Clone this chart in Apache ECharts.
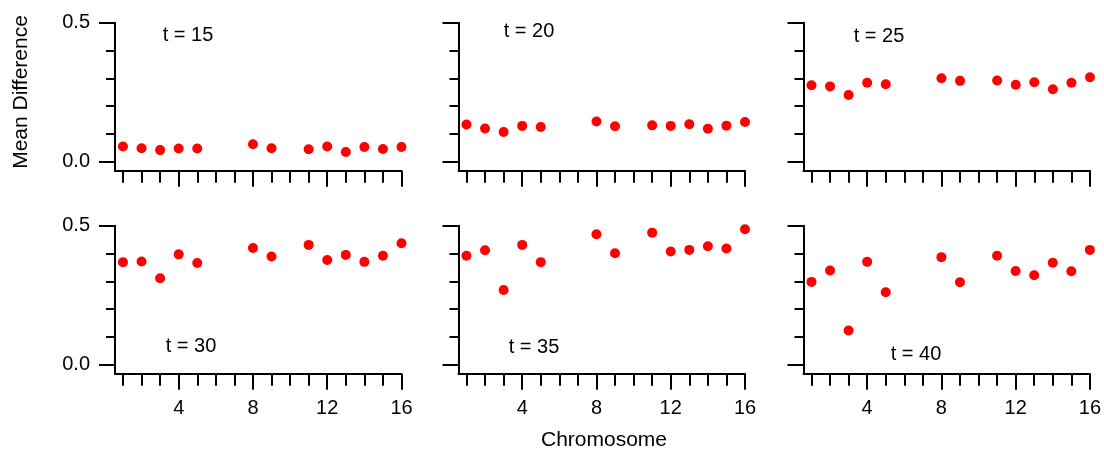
<!DOCTYPE html>
<html>
<head>
<meta charset="utf-8">
<title>Mean Difference by Chromosome</title>
<script src="https://cdn.jsdelivr.net/npm/echarts@6/dist/echarts.min.js"></script>
<style>
  html, body { margin: 0; padding: 0; background: #fff; }
  #chart { width: 1104px; height: 451px; }
</style>
</head>
<body>
<div id="chart"></div>
<script>
// Chromosomes with a measurement (6, 7 and 10 have none)
const chromosomes = [1, 2, 3, 4, 5, 8, 9, 11, 12, 13, 14, 15, 16];

// Mean difference per chromosome at each time point
const t15 = [0.055, 0.049, 0.042, 0.048, 0.048, 0.063, 0.049, 0.045, 0.055, 0.035, 0.053, 0.046, 0.053];
const t20 = [0.134, 0.120, 0.107, 0.129, 0.125, 0.145, 0.128, 0.131, 0.129, 0.135, 0.119, 0.130, 0.143];
const t25 = [0.275, 0.271, 0.240, 0.284, 0.279, 0.300, 0.291, 0.292, 0.277, 0.286, 0.261, 0.284, 0.304];
const t30 = [0.369, 0.371, 0.311, 0.397, 0.366, 0.420, 0.389, 0.431, 0.377, 0.395, 0.370, 0.392, 0.437];
const t35 = [0.392, 0.412, 0.269, 0.431, 0.369, 0.469, 0.401, 0.475, 0.407, 0.413, 0.426, 0.418, 0.487];
const t40 = [0.298, 0.339, 0.123, 0.370, 0.261, 0.387, 0.297, 0.392, 0.337, 0.322, 0.367, 0.336, 0.413];

const panelSeries = [t15, t20, t25, t30, t35, t40];
const panelLabels = ['t = 15', 't = 20', 't = 25', 't = 30', 't = 35', 't = 40'];

// Tick positions
const xMinorTicks = [1, 2, 3, 4, 5, 6, 7, 8, 9, 10, 11, 12, 13, 14, 15, 16];
const xMajorTicks = [4, 8, 12, 16];
const yMinorTicks = [0, 0.1, 0.2, 0.3, 0.4, 0.5];
const yMajorTicks = [0, 0.5];

const FONT = "'Liberation Sans', Arial, Helvetica, sans-serif";
const INK = '#000';

// Panel layout (3 columns x 2 rows)
const colLeft = [115, 458.5, 803.5];
const rowTop = [22.7, 225.7];
const panelW = 286.5;
const panelH = 148;
const X_MIN = 0.57, X_MAX = 16;
const Y_MIN = -0.032, Y_MAX = 0.5;

// Panel title placement (centre of text)
const labelPos = [
  [188, 35], [529, 31], [879, 36],
  [191, 346], [534, 347.5], [916, 354]
];

const grids = [], xAxes = [], yAxes = [], series = [], titles = [];

panelSeries.forEach((vals, i) => {
  const row = Math.floor(i / 3), col = i % 3;
  grids.push({ left: colLeft[col], top: rowTop[row], width: panelW, height: panelH, containLabel: false });

  const lineStyle = { color: INK, width: 2 };

  // x axis: line with a tick at every chromosome
  xAxes.push({
    type: 'value', gridIndex: i, min: X_MIN, max: X_MAX, position: 'bottom',
    axisLine: { show: true, onZero: false, lineStyle },
    axisTick: { show: true, length: 12, customValues: xMinorTicks, lineStyle },
    axisLabel: { show: false },
    splitLine: { show: false }
  });
  // x axis: longer ticks and numbers at every fourth chromosome
  xAxes.push({
    type: 'value', gridIndex: i, min: X_MIN, max: X_MAX, position: 'bottom',
    axisLine: { show: false, onZero: false },
    axisTick: { show: true, length: 16, customValues: xMajorTicks, lineStyle },
    axisLabel: {
      show: row === 1, customValues: xMajorTicks, margin: 25,
      color: INK, fontSize: 20, fontFamily: FONT
    },
    splitLine: { show: false }
  });

  // y axis: line with short ticks every 0.1
  yAxes.push({
    type: 'value', gridIndex: i, min: Y_MIN, max: Y_MAX, position: 'left',
    axisLine: { show: true, onZero: false, lineStyle },
    axisTick: { show: true, length: 9, customValues: yMinorTicks, lineStyle },
    axisLabel: { show: false },
    splitLine: { show: false }
  });
  // y axis: long ticks and labels at 0.0 and 0.5
  yAxes.push({
    type: 'value', gridIndex: i, min: Y_MIN, max: Y_MAX, position: 'left',
    axisLine: { show: false, onZero: false },
    axisTick: { show: true, length: 16, customValues: yMajorTicks, lineStyle },
    axisLabel: {
      show: col === 0, customValues: yMajorTicks, margin: 25,
      color: INK, fontSize: 20, fontFamily: FONT,
      formatter: v => v.toFixed(1)
    },
    splitLine: { show: false }
  });

  series.push({
    type: 'scatter',
    xAxisIndex: 2 * i, yAxisIndex: 2 * i,
    data: chromosomes.map((c, k) => [c, vals[k]]),
    symbol: 'circle', symbolSize: 10,
    itemStyle: { color: '#ff0000', opacity: 1 },
    clip: false, silent: true
  });

  titles.push({
    type: 'text',
    x: labelPos[i][0], y: labelPos[i][1],
    style: {
      text: panelLabels[i], fill: INK, font: '20px ' + FONT,
      textAlign: 'center', textVerticalAlign: 'middle'
    }
  });
});

// Shared axis titles
titles.push({
  type: 'text', x: 21, y: 92, rotation: Math.PI / 2,
  style: {
    text: 'Mean Difference', fill: INK, font: '21px ' + FONT,
    textAlign: 'center', textVerticalAlign: 'middle'
  }
});
titles.push({
  type: 'text', x: 604, y: 440,
  style: {
    text: 'Chromosome', fill: INK, font: '21px ' + FONT,
    textAlign: 'center', textVerticalAlign: 'middle'
  }
});

const chart = echarts.init(document.getElementById('chart'), null, { renderer: 'canvas' });
chart.setOption({
  animation: false,
  backgroundColor: '#fff',
  grid: grids,
  xAxis: xAxes,
  yAxis: yAxes,
  series: series,
  graphic: titles
});
</script>
</body>
</html>
